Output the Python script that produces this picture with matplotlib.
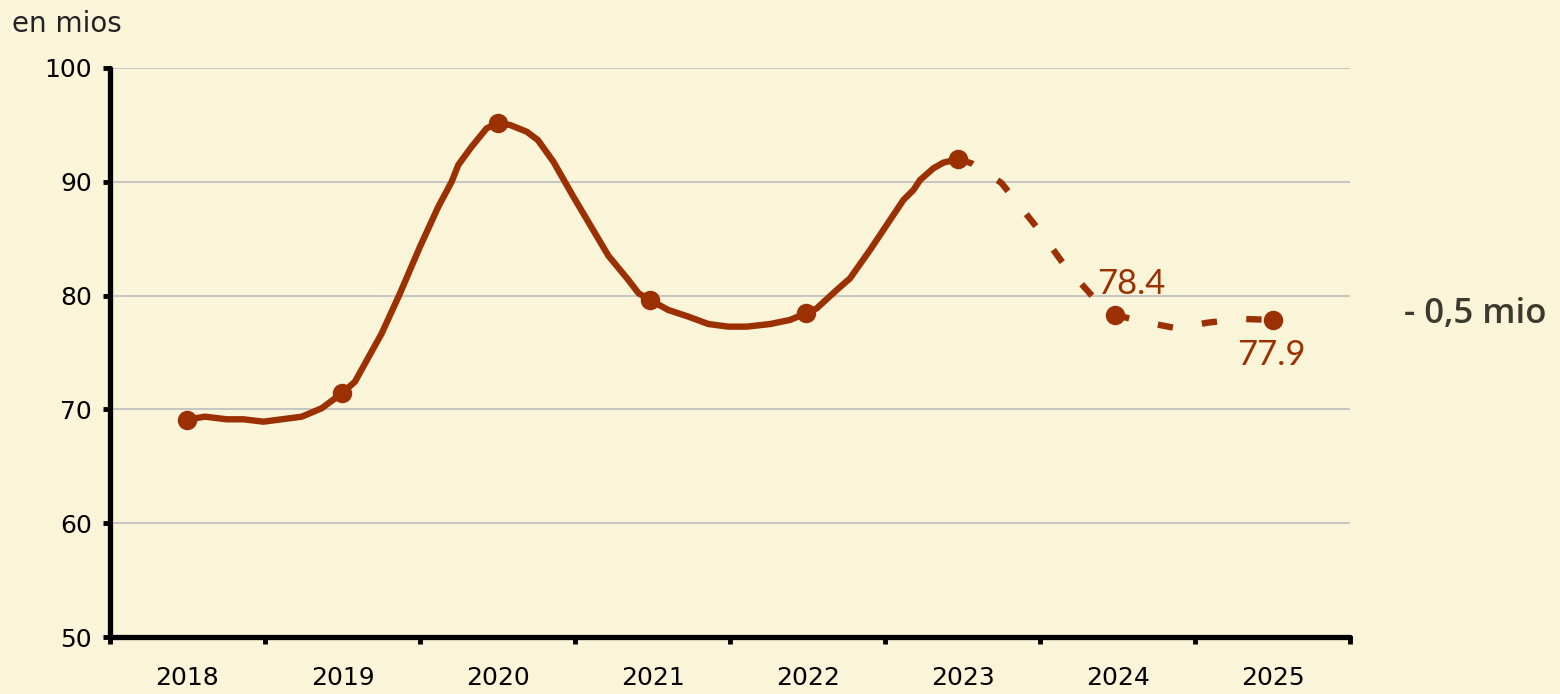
import numpy as np
import matplotlib
matplotlib.use("Agg")
from matplotlib import pyplot as plt

# values (x in years since start of 2018)
years = ["2018", "2019", "2020", "2021", "2022", "2023", "2024", "2025"]
solid_x = [0.495, 0.613, 0.753, 0.86, 0.99, 1.237, 1.366, 1.499, 1.58, 1.753,
           1.871, 2.0, 2.118, 2.204, 2.247, 2.333, 2.43, 2.501, 2.58, 2.688,
           2.76, 2.86, 2.989, 3.215, 3.344, 3.41, 3.484, 3.602, 3.731, 3.86,
           3.989, 4.108, 4.258, 4.387, 4.49, 4.559, 4.688, 4.774, 4.903, 5.075,
           5.118, 5.183, 5.226, 5.312, 5.376, 5.473]
solid_y = [69.1, 69.36, 69.13, 69.13, 68.92, 69.36, 70.1, 71.45, 72.43, 76.68,
           80.2, 84.3, 87.81, 90.0, 91.48, 93.08, 94.7, 95.14, 94.99, 94.4,
           93.67, 91.77, 88.69, 83.5, 81.37, 80.2, 79.61, 78.73, 78.15, 77.5,
           77.27, 77.27, 77.5, 77.86, 78.45, 78.88, 80.49, 81.52, 84.01, 87.52,
           88.4, 89.28, 90.16, 91.19, 91.68, 92.0]
dash_x = [5.473, 5.56, 5.75, 5.99, 6.15, 6.34, 6.48, 6.7, 6.88, 7.08, 7.3, 7.5]
dash_y = [92.0, 91.6, 89.9, 85.8, 82.8, 79.9, 78.3, 77.6, 77.13, 77.62, 77.95, 77.86]
mark_x = [0.495, 1.499, 2.501, 3.484, 4.49, 5.473, 6.48, 7.5]
mark_y = [69.1, 71.45, 95.14, 79.61, 78.45, 92.0, 78.3, 77.86]
y_ticks = [50, 60, 70, 80, 90, 100]

bg = "#FAF4D8"
red = "#9B3103"

fig = plt.figure(figsize=(15.6, 6.94), dpi=100, facecolor=bg)
ax = fig.add_axes([0.0705, 0.0821, 0.795, 0.82])
ax.set_facecolor(bg)

ax.plot(solid_x, solid_y, color=red, lw=4.6, solid_joinstyle="round",
        solid_capstyle="round", zorder=3)
ax.plot(dash_x, dash_y, color=red, lw=4.6, dashes=(2.4, 4.6),
        dash_capstyle="butt", zorder=3)
ax.plot(mark_x, mark_y, "o", color=red, ms=13, zorder=4)

ax.text(6.59, 81.0, "78.4", color=red, fontsize=25, family="Lato",
        ha="center", va="center")
ax.text(7.49, 74.8, "77.9", color=red, fontsize=25, family="Lato",
        ha="center", va="center")
ax.text(8.35, 78.4, "- 0,5 mio", color="#3a3a2e", fontsize=25,
        family="Open Sans", fontweight="semibold", ha="left", va="center",
        clip_on=False)
fig.text(0.008, 0.966, "en mios", fontsize=20, family="DejaVu Sans",
         color="#222222", ha="left", va="center")

ax.set_xlim(0, 8)
ax.set_ylim(50, 100)
ax.set_yticks(y_ticks)
ax.set_yticklabels([str(v) for v in y_ticks], fontsize=18,
                   family="DejaVu Sans")
ax.set_xticks(range(9))
ax.set_xticklabels([])
ax.set_xticks([i + 0.5 for i in range(8)], minor=True)
ax.set_xticklabels(years, minor=True, fontsize=18, family="DejaVu Sans")
ax.tick_params(axis="x", which="major", length=5, width=3.5, direction="out")
ax.tick_params(axis="x", which="minor", length=0, pad=21)
ax.tick_params(axis="y", length=5, width=3.5, direction="out", pad=8)

for v in y_ticks[1:]:
    ax.axhline(v, color="#c2c2c2", lw=1.3, zorder=1)

for s in ["top", "right"]:
    ax.spines[s].set_visible(False)
for s in ["left", "bottom"]:
    ax.spines[s].set_linewidth(3.8)
    ax.spines[s].set_capstyle("round")

fig.savefig("out.png", dpi=100, facecolor=bg)
